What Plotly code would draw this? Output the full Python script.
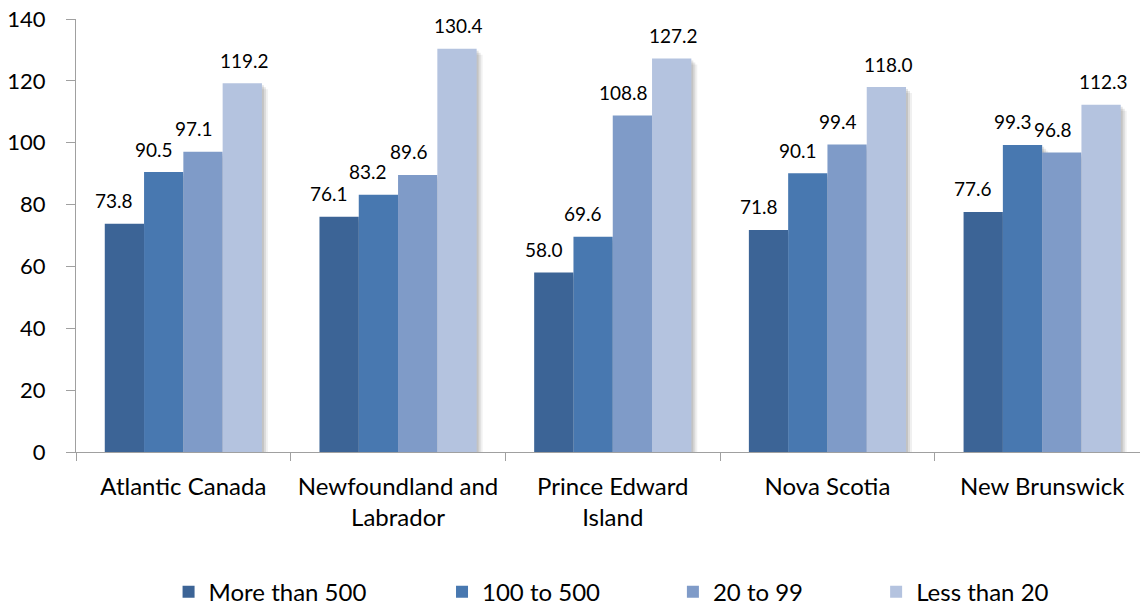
import plotly.graph_objects as go

# Category labels (two-line names use <br>)
categories = [
    "Atlantic Canada",
    "Newfoundland and<br>Labrador",
    "Prince Edward<br>Island",
    "Nova Scotia",
    "New Brunswick",
]

# Series values, one list per employer-size group
series_names = ["More than 500", "100 to 500", "20 to 99", "Less than 20"]
more_than_500 = [73.8, 76.1, 58.0, 71.8, 77.6]
from_100_to_500 = [90.5, 83.2, 69.6, 90.1, 99.3]
from_20_to_99 = [97.1, 89.6, 108.8, 99.4, 96.8]
less_than_20 = [119.2, 130.4, 127.2, 118.0, 112.3]

y_tick_values = [0, 20, 40, 60, 80, 100, 120, 140]

# ---- styling ----
colors = ["#3C6496", "#4878B0", "#7F9BC8", "#B4C3DF"]
font_family = "Lato, 'Open Sans', sans-serif"
axis_gray = "#A0A0A0"
bar_width = 0.183
group_start = -2 * bar_width
label_xshift = [-10, -10, -9, 2]
legend_x = [0.087, 0.344, 0.561, 0.752]

series_values = [more_than_500, from_100_to_500, from_20_to_99, less_than_20]
x_index = list(range(len(categories)))

fig = go.Figure()

# soft drop shadow behind each bar (three translucent layers)
for shift_px, alpha in [(2, 0.10), (4, 0.09), (6, 0.06)]:
    for i, vals in enumerate(series_values):
        fig.add_trace(go.Bar(
            x=categories,
            y=[v - shift_px / 3.1 for v in vals],
            width=bar_width,
            offset=group_start + i * bar_width + shift_px / 214.7,
            marker=dict(color=f"rgba(0,0,0,{alpha})", line=dict(width=0)),
            showlegend=False,
            hoverinfo="skip",
        ))

# main bars
legend_ids = ["legend", "legend2", "legend3", "legend4"]
for i, (name, vals) in enumerate(zip(series_names, series_values)):
    fig.add_trace(go.Bar(
        x=categories,
        y=vals,
        name=name,
        width=bar_width,
        offset=group_start + i * bar_width,
        marker=dict(color=colors[i], line=dict(width=0)),
        legend=legend_ids[i],
    ))

# value labels above each bar
annotations = []
for i, vals in enumerate(series_values):
    for j, v in enumerate(vals):
        annotations.append(dict(
            x=x_index[j] + group_start + (i + 0.5) * bar_width,
            y=v,
            xref="x", yref="y",
            text=f"{v:.1f}",
            showarrow=False,
            xanchor="center", yanchor="middle",
            xshift=label_xshift[i], yshift=23,
            font=dict(family=font_family, size=19, color="#000000"),
        ))

legend_common = dict(
    orientation="h",
    yref="container",
    y=0.023,
    yanchor="middle",
    xanchor="left",
    font=dict(family=font_family, size=24, color="#000000"),
    bgcolor="rgba(0,0,0,0)",
)

fig.update_layout(
    width=1140,
    height=606,
    autosize=False,
    barmode="overlay",
    paper_bgcolor="white",
    plot_bgcolor="white",
    margin=dict(l=76, r=0, t=19, b=154),
    font=dict(family=font_family, color="#000000"),
    annotations=annotations,
    legend=dict(legend_common, x=legend_x[0]),
    legend2=dict(legend_common, x=legend_x[1]),
    legend3=dict(legend_common, x=legend_x[2]),
    legend4=dict(legend_common, x=legend_x[3]),
    xaxis=dict(
        type="category",
        range=[-0.5, -0.5 + 1064 / 214.7],
        tickson="boundaries",
        ticks="outside",
        ticklen=8,
        tickcolor=axis_gray,
        tickwidth=1.3,
        showline=True,
        linecolor=axis_gray,
        linewidth=1.3,
        showgrid=False,
        ticklabelstandoff=13,
        tickfont=dict(family=font_family, size=24, color="#000000"),
    ),
    yaxis=dict(
        range=[0, 140],
        tickmode="array",
        tickvals=y_tick_values,
        ticktext=[str(t) for t in y_tick_values],
        ticks="outside",
        ticklen=9,
        tickcolor=axis_gray,
        tickwidth=1.3,
        showline=True,
        linecolor=axis_gray,
        linewidth=1.3,
        showgrid=False,
        zeroline=False,
        ticklabelstandoff=16,
        tickfont=dict(family=font_family, size=22, color="#000000"),
    ),
)

fig.write_html("out.html")
